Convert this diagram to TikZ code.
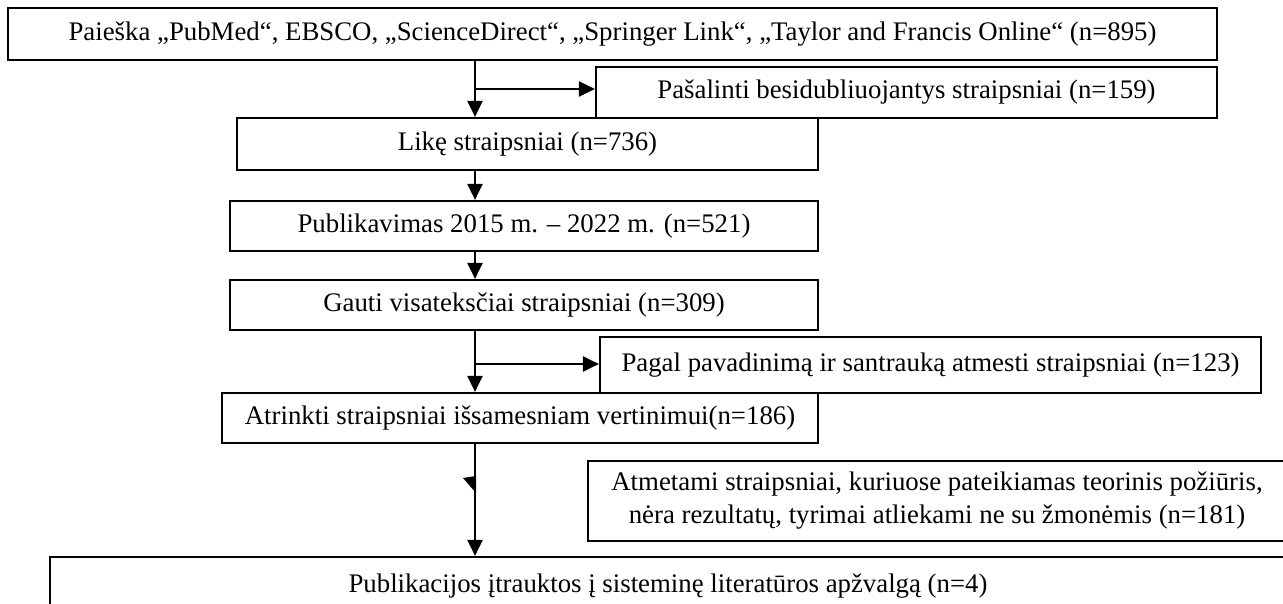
\documentclass[tikz,border=0pt]{standalone}
\usepackage{fontspec}
\setmainfont{Liberation Serif}
\usetikzlibrary{arrows.meta}
\begin{document}
\begin{tikzpicture}[x=0.5pt,y=-0.5pt,
  box/.style={draw=black,line width=1.1pt,rectangle,inner sep=0pt,align=center,
    font=\fontsize{13.4}{16.5}\selectfont},
  arr/.style={line width=1.1pt,-{Triangle[length=8pt,width=7.5pt]}},
  ln/.style={line width=1.1pt}]
\useasboundingbox (0,0) rectangle (1283,604);
\coordinate (spine) at (475,0);
\node[box,minimum width=604.5pt,minimum height=26pt] (top) at (612.5,34)
  {Paieška „PubMed“, EBSCO, „ScienceDirect“, „Springer Link“, „Taylor and Francis Online“ (n=895)};
\node[box,minimum width=310.5pt,minimum height=25.5pt] (dup) at (906.5,92.5)
  {Pašalinti besidubliuojantys straipsniai (n=159)};
\node[box,minimum width=290.5pt,minimum height=26pt] (like) at (527.5,144)
  {Likę straipsniai (n=736)};
\node[box,minimum width=294pt,minimum height=25pt] (pub) at (524,226)
  {Publikavimas 2015 m. – 2022 m. (n=521)};
\node[box,minimum width=294pt,minimum height=25pt] (gauti) at (524,305)
  {Gauti visateksčiai straipsniai (n=309)};
\node[box,minimum width=330.5pt,minimum height=28pt] (pagal) at (930.5,365)
  {Pagal pavadinimą ir santrauką atmesti straipsniai (n=123)};
\node[box,minimum width=298pt,minimum height=25pt] (atr) at (520,418)
  {Atrinkti straipsniai išsamesniam vertinimui(n=186)};
\node[box,minimum width=349pt,minimum height=40pt] (atm) at (937,501)
  {Atmetami straipsniai, kuriuose pateikiamas teorinis požiūris,\\nėra rezultatų, tyrimai atliekami ne su žmonėmis (n=181)};
\node[box,minimum width=618pt,minimum height=29pt] (fin) at (668,586)
  {Publikacijos įtrauktos į sisteminę literatūros apžvalgą (n=4)};
% connectors
\draw[arr] (top.south -| spine) -- (like.north -| spine);
\coordinate (b1) at (475,89);
\draw[arr] (b1) -- (b1 -| dup.west);
\draw[arr] (like.south -| spine) -- (pub.north -| spine);
\draw[arr] (pub.south -| spine) -- (gauti.north -| spine);
\draw[arr] (gauti.south -| spine) -- (atr.north -| spine);
\coordinate (b2) at (475,364);
\draw[arr] (b2) -- (b2 -| pagal.west);
\draw[arr] (atr.south -| spine) -- (fin.north -| spine);
\fill (463,478) -- (476,476) -- (476,493) -- cycle;
\end{tikzpicture}
\end{document}
